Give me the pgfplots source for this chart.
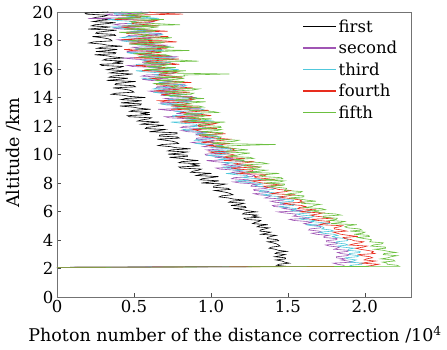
\documentclass[border=0pt]{standalone}
\usepackage{fontspec}
\setmainfont{DejaVu Serif}
\usepackage{pgfplots}
\usepackage{pgfplotstable}
\pgfplotsset{compat=1.18}
\definecolor{linepurple}{RGB}{160,85,180}
\definecolor{linecyan}{RGB}{80,200,220}
\definecolor{linered}{RGB}{232,45,30}
\definecolor{linegreen}{RGB}{108,192,64}
\pgfplotstableread{
alt first second third fourth fifth
2.08 0 0 0 0 0
2.150 1.49 1.865 1.92 2.005 2.225
2.225 1.427 1.865 1.905 2.055 2.21
2.300 1.444 1.82 1.98 2.09 2.145
2.375 1.509 1.795 1.99 1.98 2.145
2.450 1.478 1.925 1.90 2.025 2.115
2.525 1.462 1.89 1.925 2.07 2.195
2.600 1.422 1.845 1.945 1.995 2.185
2.675 1.485 1.875 1.89 2.01 2.105
2.750 1.484 1.815 1.875 2.05 2.15
2.825 1.415 1.815 1.95 2.035 2.17
2.900 1.454 1.885 1.965 1.98 2.21
2.975 1.482 1.903 1.898 1.96 2.12
3.050 1.418 1.845 1.90 2.065 2.125
3.125 1.429 1.823 1.968 2.045 2.203
3.200 1.492 1.89 1.97 2.055 2.155
3.275 1.439 1.895 1.89 2.015 2.12
3.350 1.418 1.80 1.895 1.97 2.065
3.425 1.378 1.82 1.93 1.94 2.135
3.500 1.394 1.835 1.855 1.99 2.135
3.575 1.449 1.77 1.825 2.015 2.04
3.650 1.44 1.745 1.89 1.90 2.055
3.725 1.427 1.815 1.875 1.925 2.11
3.800 1.402 1.825 1.81 1.97 2.12
3.875 1.369 1.752 1.817 1.992 2.032
3.950 1.44 1.75 1.885 1.93 2.04
4.025 1.431 1.818 1.893 1.913 2.043
4.100 1.366 1.82 1.875 1.87 1.995
4.175 1.365 1.735 1.81 1.86 1.955
4.250 1.392 1.735 1.79 1.955 2.03
4.325 1.423 1.765 1.825 1.895 2.025
4.400 1.326 1.685 1.80 1.845 1.93
4.475 1.361 1.655 1.728 1.82 1.985
4.550 1.388 1.72 1.705 1.795 2.00
4.625 1.318 1.702 1.798 1.882 1.903
4.700 1.32 1.635 1.78 1.85 1.98
4.775 1.351 1.643 1.72 1.803 1.967
4.850 1.378 1.71 1.735 1.80 1.89
4.925 1.301 1.715 1.725 1.835 1.87
5.000 1.315 1.71 1.66 1.855 1.89
5.075 1.37 1.627 1.615 1.708 1.948
5.150 1.27 1.605 1.775 1.73 1.78
5.225 1.284 1.653 1.719 1.773 1.839
5.300 1.312 1.623 1.65 1.77 1.87
5.375 1.324 1.535 1.677 1.692 1.768
5.450 1.225 1.51 1.587 1.653 1.816
5.525 1.215 1.632 1.577 1.784 1.821
5.600 1.314 1.61 1.658 1.745 1.728
5.675 1.271 1.534 1.67 1.677 1.731
5.750 1.30 1.556 1.587 1.648 1.845
5.825 1.206 1.547 1.558 1.698 1.81
5.900 1.218 1.478 1.645 1.728 1.71
5.975 1.295 1.435 1.648 1.575 1.70
6.050 1.241 1.595 1.521 1.624 1.65
6.125 1.209 1.539 1.543 1.672 1.745
6.200 1.144 1.47 1.56 1.565 1.722
6.275 1.228 1.50 1.478 1.574 1.608
6.350 1.223 1.41 1.448 1.616 1.657
6.425 1.13 1.40 1.536 1.587 1.67
6.500 1.186 1.483 1.545 1.505 1.71
6.575 1.214 1.498 1.451 1.475 1.59
6.650 1.116 1.417 1.448 1.602 1.586
6.725 1.133 1.388 1.535 1.579 1.684
6.800 1.22 1.475 1.538 1.589 1.62
6.875 1.146 1.478 1.43 1.54 1.577
6.950 1.114 1.351 1.434 1.484 1.508
7.025 1.054 1.374 1.476 1.442 1.603
7.100 1.07 1.39 1.375 1.503 1.605
7.175 1.143 1.308 1.339 1.539 1.485
7.250 1.128 1.279 1.426 1.392 1.508
7.325 1.107 1.366 1.403 1.428 1.579
7.400 1.069 1.376 1.315 1.489 1.593
7.475 1.025 1.281 1.323 1.518 1.479
7.550 1.125 1.278 1.407 1.437 1.489
7.625 1.11 1.365 1.417 1.414 1.492
7.700 1.017 1.368 1.394 1.358 1.43
7.775 1.018 1.26 1.309 1.343 1.378
7.850 1.057 1.264 1.284 1.465 1.476
7.925 1.096 1.305 1.333 1.396 1.479
8.000 0.938 1.19 1.307 1.335 1.345
8.075 1.003 1.147 1.195 1.299 1.446
8.150 1.053 1.264 1.168 1.264 1.478
8.225 0.93 1.242 1.33 1.417 1.324
8.300 0.943 1.135 1.306 1.368 1.467
8.375 1.0 1.15 1.211 1.287 1.457
8.450 1.05 1.268 1.244 1.283 1.336
8.525 0.905 1.284 1.234 1.35 1.318
8.600 0.933 1.257 1.147 1.365 1.367
8.675 1.005 1.158 1.098 1.179 1.444
8.750 0.868 1.136 1.31 1.214 1.233
8.825 0.882 1.203 1.241 1.272 1.314
8.900 0.92 1.167 1.155 1.27 1.361
8.975 0.938 1.057 1.198 1.176 1.234
9.050 0.805 1.033 1.089 1.132 1.304
9.125 0.792 1.196 1.081 1.312 1.322
9.200 0.93 1.171 1.193 1.27 1.212
9.275 0.875 1.078 1.218 1.185 1.219
9.350 0.918 1.114 1.118 1.153 1.37
9.425 0.792 1.107 1.085 1.23 1.337
9.500 0.81 1.022 1.205 1.282 1.22
9.575 0.918 0.972 1.214 1.085 1.21
9.650 0.845 1.186 1.054 1.152 1.149
9.725 0.81 1.119 1.09 1.22 1.278
9.800 0.73 1.035 1.116 1.086 1.253
9.875 0.848 1.078 1.014 1.101 1.104
9.950 0.845 0.968 0.982 1.159 1.168
10.025 0.72 0.962 1.102 1.127 1.195
10.100 0.798 1.073 1.12 1.025 1.255
10.175 0.845 1.102 1.001 0.992 1.102
10.250 0.72 1.003 1.003 1.163 1.104
10.325 0.745 0.972 1.125 1.139 1.242
10.400 0.868 1.095 1.137 1.157 1.166
10.475 0.773 1.107 1.004 1.101 1.115
10.550 0.738 0.949 1.017 1.036 1.032
10.625 0.658 0.984 1.078 0.985 1.16
10.700 0.683 1.01 0.95 1.072 1.42
10.775 0.79 0.91 0.906 1.125 1.015
10.850 0.778 0.876 1.024 0.938 1.048
10.925 0.753 0.999 1.002 0.992 1.153
11.000 0.705 1.02 0.895 1.081 1.182
11.075 0.653 0.904 0.915 1.124 1.038
11.150 0.795 0.908 1.038 1.024 1.057
11.225 0.783 1.027 1.056 0.999 1.067
11.300 0.665 1.037 1.032 0.932 0.99
11.375 0.668 0.902 0.931 0.924 0.93
11.450 0.78 0.912 0.906 1.096 1.064
11.525 0.78 0.975 0.978 1.014 1.076
11.600 0.60 0.85 0.947 0.95 0.935
11.675 0.658 0.812 0.84 0.917 1.036
11.750 0.703 0.934 0.818 0.883 1.068
11.825 0.575 0.912 0.983 1.04 0.919
11.900 0.583 0.805 0.961 0.993 1.067
11.975 0.64 0.826 0.871 0.92 1.062
12.050 0.696 0.968 0.911 0.918 0.936
12.125 0.547 0.996 0.906 1.012 0.92
12.200 0.582 0.969 0.802 1.04 0.992
12.275 0.665 0.84 0.739 0.801 1.094
12.350 0.524 0.811 1.018 0.849 0.823
12.425 0.548 0.905 0.936 0.93 0.937
12.500 0.597 0.867 0.832 0.933 1.006
12.575 0.614 0.73 0.893 0.818 0.847
12.650 0.47 0.703 0.756 0.769 0.941
12.725 0.457 0.918 0.751 1.003 0.966
12.800 0.604 0.891 0.90 0.952 0.827
12.875 0.551 0.776 0.939 0.848 0.844
12.950 0.602 0.826 0.813 0.81 1.048
13.025 0.472 0.821 0.775 0.915 1.01
13.100 0.493 0.717 0.935 0.987 0.862
13.175 0.608 0.657 0.952 0.74 0.855
13.250 0.531 0.938 0.749 0.834 0.781
13.325 0.494 0.856 0.799 0.926 0.952
13.400 0.409 0.752 0.838 0.753 0.925
13.475 0.542 0.813 0.712 0.781 0.744
13.550 0.548 0.676 0.674 0.864 0.838
13.625 0.415 0.673 0.836 0.826 0.88
13.700 0.498 0.825 0.867 0.70 0.965
13.775 0.549 0.864 0.719 0.662 0.771
13.850 0.416 0.738 0.725 0.888 0.774
13.925 0.443 0.70 0.885 0.861 0.956
14.000 0.574 0.86 0.902 0.889 0.863
14.075 0.473 0.877 0.732 0.818 0.803
14.150 0.436 0.674 0.749 0.736 0.699
14.225 0.354 0.724 0.832 0.676 0.87
14.300 0.383 0.763 0.673 0.792 0.887
14.375 0.50 0.637 0.624 0.864 0.695
14.450 0.49 0.599 0.784 0.628 0.745
14.525 0.469 0.762 0.76 0.703 0.883
14.600 0.424 0.792 0.625 0.821 0.922
14.675 0.363 0.644 0.653 0.882 0.741
14.750 0.51 0.65 0.813 0.756 0.769
14.825 0.50 0.81 0.841 0.729 0.786
14.900 0.377 0.827 0.814 0.647 0.693
14.975 0.382 0.659 0.69 0.644 0.622
15.050 0.444 0.679 0.666 0.873 0.804
15.125 0.511 0.762 0.76 0.769 0.821
15.200 0.322 0.603 0.722 0.687 0.64
15.275 0.40 0.554 0.585 0.649 0.778
15.350 0.461 0.714 0.558 0.611 0.828
15.425 0.338 0.687 0.773 0.815 0.636
15.500 0.36 0.55 0.746 0.755 0.829
15.575 0.43 0.578 0.631 0.662 0.824
15.650 0.491 0.738 0.681 0.668 1.12
15.725 0.344 0.766 0.676 0.762 0.66
15.800 0.382 0.739 0.572 0.79 0.732
15.875 0.465 0.613 0.512 0.554 0.837
15.950 0.324 0.586 0.793 0.604 0.568
16.025 0.354 0.693 0.726 0.694 0.685
16.100 0.407 0.651 0.606 0.704 0.773
16.175 0.428 0.49 0.679 0.569 0.586
16.250 0.29 0.459 0.518 0.512 0.698
16.325 0.28 0.716 0.515 0.795 0.732
16.400 0.429 0.688 0.695 0.741 0.571
16.475 0.378 0.553 0.742 0.619 0.592
16.550 0.432 0.613 0.594 0.575 0.92
16.625 0.299 0.611 0.553 0.703 0.792
16.700 0.318 0.491 0.745 0.791 0.621
16.775 0.436 0.421 0.766 0.50 0.616
16.850 0.361 0.79 0.527 0.612 0.533
16.925 0.326 0.66 0.589 0.726 0.736
17.000 0.244 0.541 0.639 0.529 0.705
17.075 0.378 0.617 0.494 0.566 0.495
17.150 0.383 0.458 0.452 0.667 0.609
17.225 0.252 0.455 0.644 0.625 0.658
17.300 0.338 0.635 0.681 0.48 0.86
17.375 0.392 0.682 0.507 0.436 0.534
17.450 0.261 0.534 0.515 0.704 0.542
17.525 0.29 0.493 0.708 0.676 0.761
17.600 0.424 0.685 0.731 0.712 0.654
17.675 0.326 0.708 0.533 0.631 0.586
17.750 0.291 0.472 0.557 0.538 0.467
17.825 0.208 0.535 0.659 0.471 0.673
17.900 0.238 0.584 0.474 0.78 0.696
17.975 0.358 0.438 0.417 0.697 0.47
18.050 0.35 0.397 0.607 0.419 0.53
18.125 0.332 0.59 0.578 0.507 0.696
18.200 0.289 0.626 0.42 0.648 0.746
18.275 0.23 0.454 0.457 0.724 0.536
18.350 0.38 0.465 0.649 0.578 0.572
18.425 0.372 0.655 0.683 0.547 0.593
18.500 0.252 0.676 0.652 0.451 0.484
18.575 0.258 0.479 0.506 0.448 0.403
18.650 0.319 0.502 0.478 0.719 0.622
18.725 0.388 0.603 0.593 0.60 0.646
18.800 0.202 0.419 0.551 0.506 0.435
18.875 0.282 0.362 0.39 0.462 0.599
18.950 0.346 0.552 0.359 0.418 0.659
19.025 0.224 0.526 0.616 0.662 0.435
19.100 0.245 0.37 0.588 0.595 0.80
19.175 0.317 0.404 0.456 0.489 0.665
19.250 0.381 0.594 0.518 0.499 0.493
19.325 0.234 0.631 0.515 0.613 0.477
19.400 0.272 0.602 0.396 0.65 0.566
19.475 0.36 0.456 0.329 0.375 0.694
19.550 0.224 0.20 0.664 0.437 0.379
19.625 0.254 0.545 0.57 0.538 0.519
19.700 0.307 0.506 0.451 0.549 0.608
19.775 0.328 0.348 0.529 0.419 0.424
19.850 0.19 0.319 0.373 0.82 0.538
19.925 0.182 0.576 0.371 0.651 0.574
20.000 0.334 0.548 0.55 0.596 0.416
}\data
\begin{document}
\begin{tikzpicture}
\begin{axis}[
  name=ax,
  scale only axis,
  width=354pt, height=285pt,
  xmin=0, xmax=2.3, ymin=0, ymax=20,
  xtick={0,0.5,1,1.5,2},
  xticklabels={0,0.5,1.0,1.5,2.0},
  ytick={0,2,4,6,8,10,12,14,16,18,20},
  /pgf/number format/assume math mode=true,
  tick align=inside,
  xtick pos=left, ytick pos=left,
  major tick length=4pt,
  tick style={black!70, line width=0.6pt},
  axis line style={black!55, line width=0.8pt},
  tick label style={font=\fontsize{16.5}{19}\selectfont},
  xlabel={Photon number of the distance correction /10\textsuperscript{4}},
  ylabel={Altitude /km},
  label style={font=\fontsize{17.5}{20}\selectfont},
  xlabel style={at={(axis description cs:0.503,0)}, anchor=center, yshift=-38pt},
  ylabel style={at={(axis description cs:0,0.505)}, anchor=center, yshift=43pt},
  legend style={draw=none, fill=none, at={(0.69,0.985)}, anchor=north west,
    font=\fontsize{16.5}{19}\selectfont, row sep=3.5pt, inner sep=1pt},
  legend cell align=left,
  legend image code/.code={\draw[#1, line width=1.2pt] (0pt,0pt) -- (33pt,0pt);},
  every axis plot/.append style={line width=0.6pt},
]
\addplot[color=black] table[x=first, y=alt] {\data};
\addplot[color=linepurple] table[x=second, y=alt] {\data};
\addplot[color=linecyan] table[x=third, y=alt] {\data};
\addplot[color=linered] table[x=fourth, y=alt] {\data};
\addplot[color=linegreen] table[x=fifth, y=alt] {\data};
\legend{first,second,third,fourth,fifth}
\end{axis}
\pgfresetboundingbox
\path ([shift={(-57pt,-53pt)}]ax.south west) rectangle ([shift={(36pt,12pt)}]ax.north east);
\end{tikzpicture}
\end{document}
